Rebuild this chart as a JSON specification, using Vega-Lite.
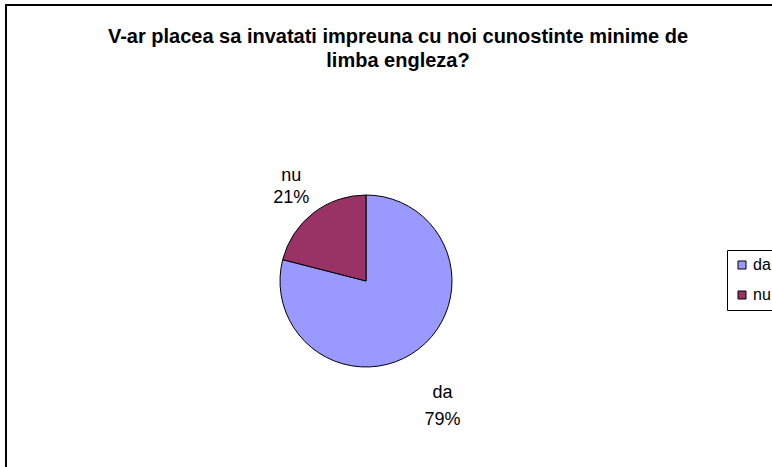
{
  "$schema": "https://vega.github.io/schema/vega-lite/v6.json",
  "autosize": {"type": "none"},
  "width": 800,
  "height": 500,
  "padding": {"left": 6, "top": 5, "right": 0, "bottom": 0},
  "background": "white",
  "config": {
    "view": {"stroke": null},
    "font": "Liberation Sans"
  },
  "title": {
    "text": ["V-ar placea sa invatati impreuna cu noi cunostinte minime de", "limba engleza?"],
    "font": "Liberation Sans",
    "fontSize": 20,
    "fontWeight": "bold",
    "color": "#000000",
    "anchor": "middle",
    "baseline": "top",
    "offset": -67,
    "dx": -8,
    "lineHeight": 24
  },
  "data": {
    "values": [
      {"answer": "da", "percent": 79},
      {"answer": "nu", "percent": 21}
    ]
  },
  "transform": [
    {"stack": "percent", "groupby": [], "sort": [{"field": "answer", "order": "ascending"}], "as": ["start", "end"]},
    {"calculate": "(datum.start + datum.end) / 2", "as": "mid"},
    {"calculate": "datum.answer + '\\n' + datum.percent + '%'", "as": "label"}
  ],
  "layer": [
    {
      "mark": {"type": "rect", "fill": null, "stroke": "#000000", "strokeWidth": 1.8},
      "encoding": {}
    },
    {
      "mark": {
        "type": "arc",
        "outerRadius": 86,
        "stroke": "#000000",
        "strokeWidth": 1,
        "x": {"expr": "width/2 - 40"},
        "y": {"expr": "height/2 + 26"}
      },
      "encoding": {
        "theta": {"field": "start", "type": "quantitative", "scale": {"domain": [0, 100]}},
        "theta2": {"field": "end"},
        "color": {
          "field": "answer",
          "type": "nominal",
          "scale": {"domain": ["da", "nu"], "range": ["#9999FF", "#993366"]},
          "legend": {
            "orient": "none",
            "legendX": 721,
            "legendY": 245,
            "title": null,
            "strokeColor": "#000000",
            "fillColor": "#ffffff",
            "padding": 7,
            "symbolType": "square",
            "symbolSize": 64,
            "symbolStrokeColor": "#000000",
            "symbolStrokeWidth": 1,
            "symbolOpacity": 1,
            "labelFontSize": 16,
            "labelFont": "Liberation Sans",
            "labelColor": "#000000",
            "labelOffset": 3,
            "rowPadding": 14
          }
        }
      }
    },
    {
      "transform": [{"filter": "datum.answer === 'nu'"}],
      "mark": {
        "type": "text",
        "radius": 122,
        "dy": -9,
        "fontSize": 18,
        "font": "Liberation Sans",
        "color": "#000000",
        "lineBreak": "\n",
        "lineHeight": 22,
        "align": "center",
        "baseline": "middle",
        "x": {"expr": "width/2 - 40"},
        "y": {"expr": "height/2 + 26"}
      },
      "encoding": {
        "theta": {"field": "mid", "type": "quantitative", "scale": {"domain": [0, 100]}},
        "text": {"field": "label"}
      }
    },
    {
      "transform": [{"filter": "datum.answer === 'da'"}],
      "mark": {
        "type": "text",
        "radius": 146,
        "dx": -13,
        "dy": -3,
        "fontSize": 18,
        "font": "Liberation Sans",
        "color": "#000000",
        "lineBreak": "\n",
        "lineHeight": 27,
        "align": "center",
        "baseline": "middle",
        "x": {"expr": "width/2 - 40"},
        "y": {"expr": "height/2 + 26"}
      },
      "encoding": {
        "theta": {"field": "mid", "type": "quantitative", "scale": {"domain": [0, 100]}},
        "text": {"field": "label"}
      }
    }
  ]
}
